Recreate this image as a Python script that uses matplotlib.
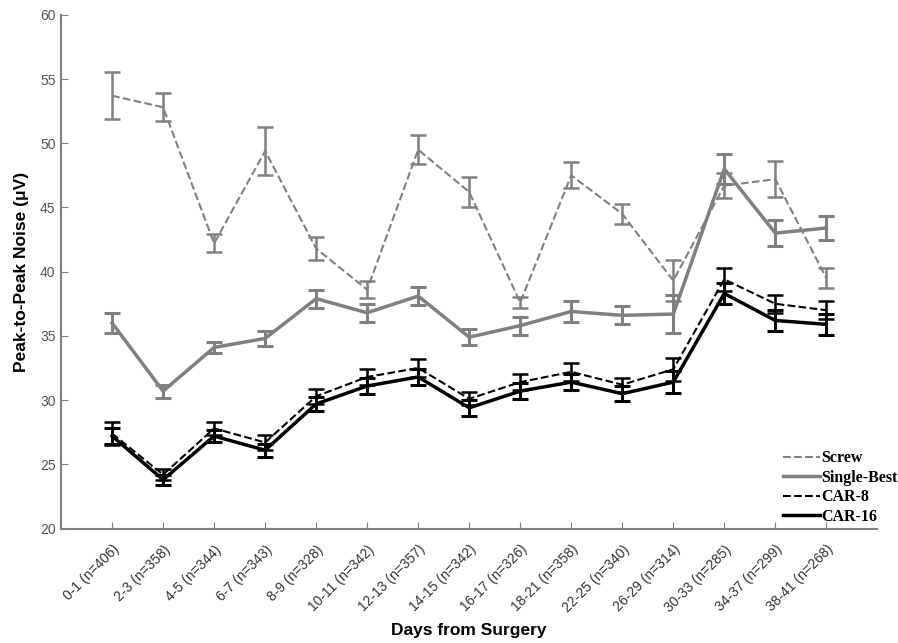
import matplotlib
matplotlib.use('Agg')
import matplotlib.pyplot as plt
import numpy as np

plt.rcParams['font.family'] = 'Liberation Sans'

# data
days = ['0-1 (n=406)', '2-3 (n=358)', '4-5 (n=344)', '6-7 (n=343)', '8-9 (n=328)',
        '10-11 (n=342)', '12-13 (n=357)', '14-15 (n=342)', '16-17 (n=326)',
        '18-21 (n=358)', '22-25 (n=340)', '26-29 (n=314)', '30-33 (n=285)',
        '34-37 (n=299)', '38-41 (n=268)']

screw = [53.7, 52.8, 42.2, 49.4, 41.8, 38.6, 49.5, 46.2, 37.6, 47.5, 44.5, 39.3, 46.7, 47.2, 39.5]
screw_err = [1.85, 1.1, 0.7, 1.9, 0.9, 0.65, 1.15, 1.2, 0.4, 1.0, 0.8, 1.6, 1.0, 1.4, 0.75]

single = [36.0, 30.7, 34.1, 34.8, 37.9, 36.8, 38.1, 34.9, 35.8, 36.9, 36.6, 36.7, 48.0, 43.0, 43.4]
single_err = [0.8, 0.5, 0.4, 0.6, 0.7, 0.7, 0.7, 0.6, 0.7, 0.8, 0.7, 1.5, 1.2, 1.0, 0.95]

car8 = [27.4, 24.2, 27.8, 26.7, 30.3, 31.8, 32.5, 30.1, 31.4, 32.2, 31.2, 32.4, 39.4, 37.5, 37.0]
car8_err = [0.9, 0.4, 0.5, 0.55, 0.6, 0.65, 0.7, 0.5, 0.6, 0.7, 0.55, 0.9, 0.9, 0.7, 0.7]

car16 = [27.2, 23.8, 27.2, 26.1, 29.7, 31.1, 31.8, 29.4, 30.7, 31.4, 30.5, 31.4, 38.3, 36.2, 35.9]
car16_err = [0.6, 0.4, 0.5, 0.5, 0.55, 0.6, 0.6, 0.6, 0.6, 0.6, 0.6, 0.85, 0.8, 0.8, 0.8]

x = np.arange(1, len(days) + 1)
gray = '#808080'

fig = plt.figure(figsize=(8.98, 6.43), dpi=100)
ax = fig.add_axes([0.068, 0.178, 0.909, 0.799])

ax.errorbar(x, screw, yerr=screw_err, color=gray, ls='--', lw=1.5, capsize=5.5,
            elinewidth=1.8, capthick=1.8, label='Screw')
ax.errorbar(x, single, yerr=single_err, color=gray, ls='-', lw=2.5, capsize=5.5,
            elinewidth=2.2, capthick=2.2, label='Single-Best')
ax.errorbar(x, car8, yerr=car8_err, color='black', ls='--', lw=1.5, capsize=5.5,
            elinewidth=1.8, capthick=1.8, label='CAR-8')
ax.errorbar(x, car16, yerr=car16_err, color='black', ls='-', lw=2.5, capsize=5.5,
            elinewidth=2.2, capthick=2.2, label='CAR-16')

ax.set_xlim(0, 16)
ax.set_ylim(20, 60)
ax.set_yticks(np.arange(20, 61, 5))
ax.set_xticks(x)
ax.set_xticklabels(days, rotation=45, ha='right', rotation_mode='anchor', fontsize=10)
ax.tick_params(direction='in', length=5, color=gray)
ax.tick_params(axis='x', pad=10, labelcolor='#333333')
ax.tick_params(axis='y', labelsize=10, pad=4, labelcolor='#555555')

for s in ['top', 'right']:
    ax.spines[s].set_visible(False)
for s in ['left', 'bottom']:
    ax.spines[s].set_color(gray)
    ax.spines[s].set_linewidth(1.5)

ax.set_ylabel('Peak-to-Peak Noise (μV)', fontsize=12.5, fontweight='bold', labelpad=8)
ax.set_xlabel('Days from Surgery', fontsize=12.5, fontweight='bold')
ax.xaxis.set_label_coords(0.5, -0.183)

h, l = ax.get_legend_handles_labels()
h = [hh[0] for hh in h]
ax.legend(h, l, loc='lower left', bbox_to_anchor=(0.877, -0.005), frameon=False,
          handlelength=2.3, handletextpad=0.1, labelspacing=0.22, borderaxespad=0.0,
          prop={'family': 'Liberation Serif', 'weight': 'bold', 'size': 11.5})

fig.savefig('out.png', dpi=100)
